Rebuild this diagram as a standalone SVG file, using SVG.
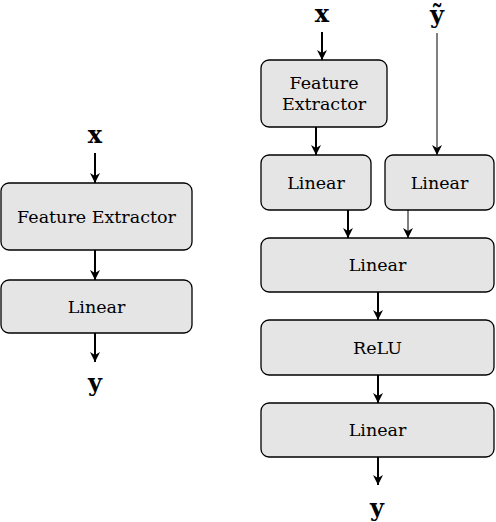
<svg xmlns="http://www.w3.org/2000/svg" width="496" height="522" viewBox="0 0 496 522">
<defs>
<marker id="ah" viewBox="0 0 10 10" refX="10" refY="5" markerWidth="10" markerHeight="10" markerUnits="userSpaceOnUse" orient="auto">
<path d="M0,0 L10,5 L0,10 L3,5 Z" fill="#000"/>
</marker>
</defs>
<style>
.box{fill:#e5e5e5;stroke:#000;stroke-width:1.3}
.lbl{font-family:"DejaVu Serif","Liberation Serif",serif;font-size:17.5px;text-anchor:middle;fill:#000}
.var{font-family:"DejaVu Serif","Liberation Serif",serif;font-size:24px;font-weight:bold;text-anchor:middle;fill:#000}
.c{stroke:#000;stroke-width:2;fill:none;marker-end:url(#ah)}
.thin{stroke-width:1}
</style>
<rect width="496" height="522" fill="#fff"/>
<g id="left-x"><text class="var" x="95" y="143">x</text></g>
<g id="left-fe"><rect class="box" x="1" y="183" width="191" height="67" rx="8"/><text class="lbl" x="96.5" y="223">Feature Extractor</text></g>
<g id="left-linear"><rect class="box" x="1" y="280" width="191" height="53" rx="8"/><text class="lbl" x="96.5" y="313">Linear</text></g>
<g id="left-y"><text class="var" x="95" y="391">y</text></g>
<g id="right-x"><text class="var" x="322" y="22">x</text></g>
<g id="right-ytilde"><text class="var" x="437" y="23">ỹ</text></g>
<g id="right-fe"><rect class="box" x="261" y="60" width="126" height="67" rx="8"/><text class="lbl" x="324" y="89">Feature</text><text class="lbl" x="324" y="110">Extractor</text></g>
<g id="right-linear1"><rect class="box" x="261" y="155" width="110" height="55" rx="8"/><text class="lbl" x="316" y="189">Linear</text></g>
<g id="right-linear2"><rect class="box" x="385" y="155" width="109" height="55" rx="8"/><text class="lbl" x="439.5" y="189">Linear</text></g>
<g id="right-linear3"><rect class="box" x="261" y="238" width="233" height="54" rx="8"/><text class="lbl" x="377.5" y="271">Linear</text></g>
<g id="right-relu"><rect class="box" x="261" y="320" width="233" height="55" rx="8"/><text class="lbl" x="377.5" y="354">ReLU</text></g>
<g id="right-linear4"><rect class="box" x="261" y="403" width="233" height="54" rx="8"/><text class="lbl" x="377.5" y="436">Linear</text></g>
<g id="right-y"><text class="var" x="377" y="516">y</text></g>
<g id="connectors">
<line class="c" x1="95" y1="153" x2="95" y2="183"/>
<line class="c" x1="95" y1="250" x2="95" y2="280"/>
<line class="c" x1="95" y1="333" x2="95" y2="362"/>
<line class="c" x1="322" y1="32" x2="322" y2="60"/>
<line class="c thin" x1="437" y1="33" x2="437" y2="155"/>
<line class="c" x1="316" y1="127" x2="316" y2="155"/>
<line class="c" x1="348" y1="210" x2="348" y2="238"/>
<line class="c thin" x1="408" y1="210" x2="408" y2="238"/>
<line class="c" x1="378" y1="292" x2="378" y2="320"/>
<line class="c" x1="378" y1="375" x2="378" y2="403"/>
<line class="c" x1="378" y1="457" x2="378" y2="485"/>
</g>
</svg>
